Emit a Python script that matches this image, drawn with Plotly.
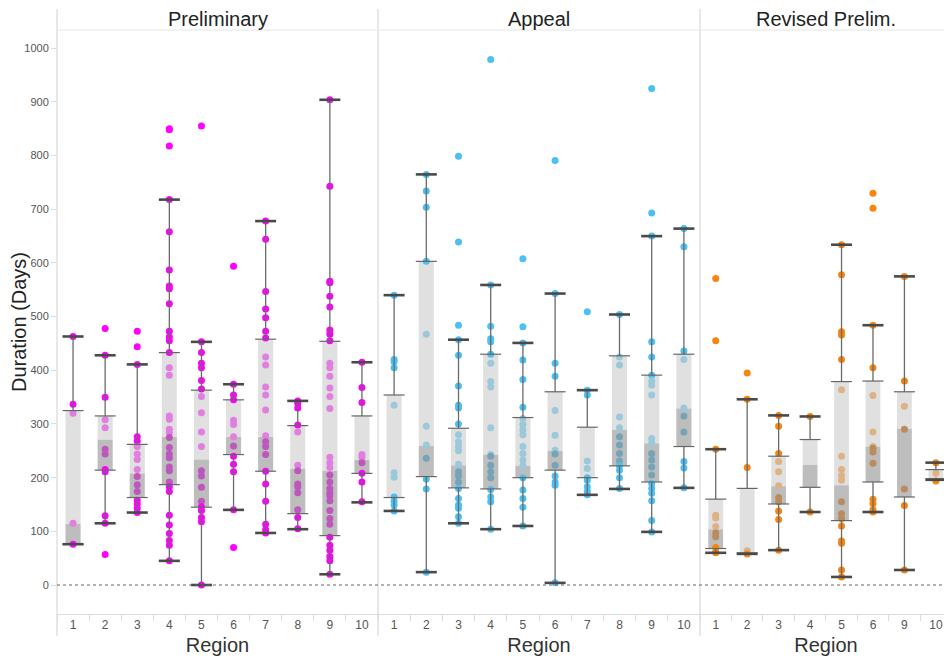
import plotly.graph_objects as go

# ---------------- data ----------------
facets = ["Preliminary", "Appeal", "Revised Prelim."]

prelim_regions = ["1", "2", "3", "4", "5", "6", "7", "8", "9", "10"]
prelim_upper = [463, 428, 411, 718, 453, 374, 678, 343, 904, 415]
prelim_q3 = [325, 315, 262, 433, 363, 345, 458, 297, 454, 315]
prelim_median = [114, 271, 208, 276, 234, 276, 276, 217, 213, 233]
prelim_q1 = [76, 214, 163, 187, 145, 243, 212, 133, 92, 208]
prelim_lower = [76, 115, 135, 45, 0, 140, 97, 104, 20, 154]
prelim_points = [
    [463, 337, 320, 115, 76],
    [478, 428, 350, 308, 293, 253, 244, 215, 211, 129, 115, 57],
    [473, 444, 411, 276, 268, 258, 244, 234, 215, 202, 187, 174, 158, 151, 143, 135],
    [850, 848, 818, 718, 658, 587, 557, 552, 524, 473, 462, 455, 433, 405, 391, 315, 309,
     290, 284, 275, 256, 244, 237, 220, 213, 192, 183, 174, 130, 112, 96, 83, 74, 45],
    [855, 453, 433, 413, 405, 381, 365, 351, 321, 285, 258, 213, 203, 182, 156, 146, 139,
     126, 118, 0],
    [594, 374, 354, 345, 307, 299, 276, 259, 240, 225, 211, 140, 70],
    [678, 644, 547, 514, 498, 473, 460, 425, 410, 369, 354, 326, 278, 267, 258, 243, 212,
     188, 156, 113, 103, 97],
    [343, 338, 330, 298, 285, 223, 213, 188, 183, 172, 140, 126, 105],
    [904, 743, 566, 563, 538, 518, 475, 467, 455, 413, 405, 389, 367, 351, 329, 238, 228,
     219, 205, 192, 180, 172, 167, 157, 139, 124, 113, 89, 74, 65, 53, 45, 20],
    [415, 368, 340, 243, 238, 228, 208, 192, 155],
]

appeal_regions = ["1", "2", "3", "4", "5", "6", "7", "8", "9", "10"]
appeal_upper = [540, 765, 457, 559, 451, 543, 363, 504, 650, 664]
appeal_q3 = [354, 603, 292, 430, 312, 360, 294, 427, 391, 430]
appeal_median = [163, 259, 223, 243, 222, 250, 200, 289, 264, 329]
appeal_q1 = [163, 202, 181, 179, 200, 214, 200, 222, 192, 258]
appeal_lower = [138, 24, 115, 104, 110, 4, 168, 179, 99, 181]
appeal_points = [
    [540, 420, 416, 405, 335, 209, 201, 164, 156, 149, 138],
    [765, 734, 704, 603, 467, 296, 261, 236, 197, 179, 24],
    [799, 639, 484, 457, 428, 371, 335, 330, 300, 280, 267, 258, 250, 225, 211, 203, 192,
     180, 161, 149, 143, 127, 115],
    [979, 559, 482, 459, 453, 430, 413, 379, 369, 293, 243, 240, 223, 211, 200, 178, 164,
     155, 104],
    [608, 481, 451, 419, 383, 331, 310, 299, 289, 280, 258, 245, 233, 222, 200, 177, 161,
     145, 110],
    [791, 543, 413, 389, 325, 279, 251, 244, 223, 203, 192, 186, 4],
    [509, 363, 354, 231, 217, 200, 195, 183, 174, 168],
    [504, 425, 410, 313, 293, 276, 261, 245, 231, 222, 214, 200, 180],
    [925, 693, 650, 453, 425, 391, 380, 372, 354, 273, 265, 245, 233, 220, 205, 189, 180,
     171, 157, 120, 99],
    [664, 630, 436, 420, 330, 315, 285, 230, 218, 181],
]

revised_regions = ["1", "2", "3", "4", "5", "6", "9", "10"]
revised_upper = [253, 346, 316, 314, 634, 484, 575, 228]
revised_q3 = [160, 180, 240, 271, 379, 380, 360, 215]
revised_median = [104, 60, 184, 224, 186, 258, 291, 198]
revised_q1 = [68, 60, 151, 182, 120, 192, 164, 198]
revised_lower = [60, 58, 65, 136, 15, 136, 28, 196]
revised_points = [
    [571, 455, 253, 130, 125, 109, 97, 90, 70, 62, 60],
    [395, 346, 219, 64, 58],
    [316, 296, 245, 230, 211, 185, 163, 155, 138, 122, 65],
    [314, 136],
    [634, 578, 472, 466, 420, 364, 240, 215, 204, 195, 155, 133, 124, 110, 82, 78, 28, 15],
    [730, 702, 484, 405, 353, 285, 258, 255, 248, 227, 160, 152, 140, 136],
    [575, 380, 333, 290, 179, 148, 28],
    [228, 208, 194],
]

y_ticks = [0, 100, 200, 300, 400, 500, 600, 700, 800, 900, 1000]

# ---------------- styling ----------------
point_colors = [(255, 0, 255), (76, 192, 243), (247, 133, 15)]
LIGHT = ((205, 205, 205), 0.62)
DARK = ((145, 145, 145), 0.60)


def blend(base, over):
    (g, a) = over
    return tuple(round(a * g[i] + (1 - a) * base[i]) for i in range(3))


def rgb(c):
    return "rgb(%d,%d,%d)" % c


# page body has an 8px default margin, so the figure is sized/offset to compensate
W, H = 944, 648
ML, MR, MT, MB = 49, 0, 22, 42
PW = W - ML - MR
PH = H - MT - MB
panel_px = [321, 322, PW - 643]
cat_px = [32.1, 32.2, 31.45]

fig = go.Figure()

facet_data = [
    (prelim_regions, prelim_upper, prelim_q3, prelim_median, prelim_q1, prelim_lower, prelim_points),
    (appeal_regions, appeal_upper, appeal_q3, appeal_median, appeal_q1, appeal_lower, appeal_points),
    (revised_regions, revised_upper, revised_q3, revised_median, revised_q1, revised_lower, revised_points),
]

for fi, (regs, up, q3, med, q1, lo, pts) in enumerate(facet_data):
    xa = "x" if fi == 0 else "x%d" % (fi + 1)
    base = point_colors[fi]
    # bars (box fills)
    fig.add_trace(go.Bar(
        x=regs, y=[m - a for m, a in zip(med, q1)], base=q1, xaxis=xa, yaxis="y",
        width=0.47, marker=dict(color="rgba(%d,%d,%d,%.2f)" % (DARK[0] + (DARK[1],)), line=dict(width=0)),
        hoverinfo="skip"))
    fig.add_trace(go.Bar(
        x=regs, y=[b - m for b, m in zip(q3, med)], base=med, xaxis=xa, yaxis="y",
        width=0.47, marker=dict(color="rgba(%d,%d,%d,%.2f)" % (LIGHT[0] + (LIGHT[1],)), line=dict(width=0)),
        hoverinfo="skip"))
    # points (colour as seen through the semi-transparent box)
    xs, ys, cs = [], [], []
    for r, vals, a, m, b in zip(regs, pts, q1, med, q3):
        for v in vals:
            xs.append(r)
            ys.append(v)
            if a + 2 < v < m:
                cs.append(rgb(blend(base, DARK)))
            elif m <= v < b - 1 and v > a + 2:
                cs.append(rgb(blend(base, LIGHT)))
            else:
                cs.append(rgb(base))
    fig.add_trace(go.Scatter(
        x=xs, y=ys, xaxis=xa, yaxis="y", mode="markers",
        marker=dict(size=7, color=cs, line=dict(width=0)), hoverinfo="skip"))
    # whisker stems
    fig.add_trace(go.Scatter(
        x=regs, y=q3, xaxis=xa, yaxis="y", mode="markers",
        marker=dict(size=1, color="rgba(0,0,0,0)"),
        error_y=dict(type="data", symmetric=False, array=[u - b for u, b in zip(up, q3)],
                     arrayminus=[0] * len(regs), width=0, thickness=1.3, color="#6a6a6a"),
        hoverinfo="skip"))
    fig.add_trace(go.Scatter(
        x=regs, y=q1, xaxis=xa, yaxis="y", mode="markers",
        marker=dict(size=1, color="rgba(0,0,0,0)"),
        error_y=dict(type="data", symmetric=False, array=[0] * len(regs),
                     arrayminus=[a - l for a, l in zip(q1, lo)], width=0, thickness=1.3, color="#6a6a6a"),
        hoverinfo="skip"))
    # hinge lines
    fig.add_trace(go.Scatter(
        x=regs + regs, y=q1 + q3, xaxis=xa, yaxis="y", mode="markers",
        marker=dict(symbol="line-ew", size=15, line=dict(width=1.2, color="#666666")),
        hoverinfo="skip"))
    # caps
    fig.add_trace(go.Scatter(
        x=regs + regs, y=lo + up, xaxis=xa, yaxis="y", mode="markers",
        marker=dict(symbol="line-ew", size=15, line=dict(width=2.6, color="#4a4a4a")),
        hoverinfo="skip"))

# axes
font_family = "Liberation Sans, Arial, sans-serif"
x0 = 0
annotations = []
shapes = []
for fi in range(3):
    w = panel_px[fi]
    d0 = x0 / PW
    d1 = (x0 + w) / PW
    key = "xaxis" if fi == 0 else "xaxis%d" % (fi + 1)
    fig.layout[key] = dict(
        domain=[d0, d1], anchor="y", type="category", automargin=False,
        range=[-0.5, -0.5 + w / cat_px[fi]],
        showline=True, linecolor="#dcdcdc", linewidth=1,
        ticks="outside", tickson="boundaries", ticklen=6, tickcolor="#dcdcdc",
        tickfont=dict(family=font_family, size=12, color="#555555"),
        showgrid=False, zeroline=False, fixedrange=True,
        title=dict(text="Region", font=dict(family=font_family, size=20, color="#333333"), standoff=9),
    )
    annotations.append(dict(
        text=facets[fi], xref="paper", yref="paper", x=(d0 + d1) / 2, y=1 + 11 / PH,
        showarrow=False, xanchor="center", yanchor="middle",
        font=dict(family=font_family, size=20, color="#222222")))
    # panel left divider
    shapes.append(dict(type="line", xref="paper", yref="paper", x0=d0, x1=d0,
                       y0=-22 / PH, y1=1 + 21 / PH, line=dict(color="#d9d9d9", width=1.2)))
    x0 += w

# header separator and zero line
shapes.append(dict(type="line", xref="paper", yref="paper", x0=0, x1=1, y0=1, y1=1,
                   line=dict(color="#e6e6e6", width=1)))
shapes.append(dict(type="line", xref="paper", yref="y", x0=0, x1=1, y0=0, y1=0,
                   line=dict(color="#666666", width=1, dash="dot")))

fig.update_layout(
    width=W, height=H,
    margin=dict(l=ML, r=MR, t=MT, b=MB, pad=0, autoexpand=False),
    paper_bgcolor="white", plot_bgcolor="white",
    barmode="overlay", showlegend=False, hovermode=False,
    yaxis=dict(
        range=[-54, 1034], tickvals=y_ticks, showgrid=False, zeroline=False,
        showline=False, ticks="outside", ticklen=5, tickcolor="#dcdcdc", automargin=False,
        tickfont=dict(family=font_family, size=11, color="#555555"),
        title=dict(text="Duration (Days)", font=dict(family=font_family, size=20, color="#222222"), standoff=8),
        fixedrange=True,
    ),
    annotations=annotations,
    shapes=shapes,
)

fig.write_html("out.html")
